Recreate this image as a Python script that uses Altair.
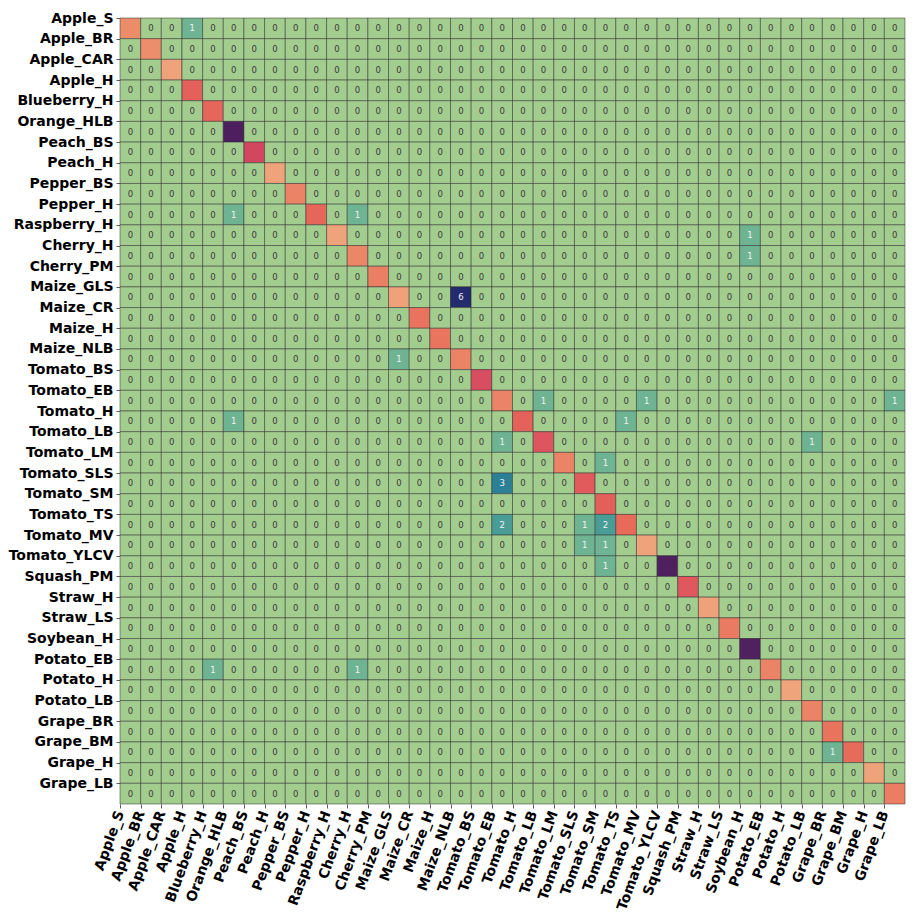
import altair as alt
import pandas as pd

labels = ["Apple_S", "Apple_BR", "Apple_CAR", "Apple_H", "Blueberry_H", "Orange_HLB",
          "Peach_BS", "Peach_H", "Pepper_BS", "Pepper_H", "Raspberry_H", "Cherry_H",
          "Cherry_PM", "Maize_GLS", "Maize_CR", "Maize_H", "Maize_NLB", "Tomato_BS",
          "Tomato_EB", "Tomato_H", "Tomato_LB", "Tomato_LM", "Tomato_SLS", "Tomato_SM",
          "Tomato_TS", "Tomato_MV", "Tomato_YLCV", "Squash_PM", "Straw_H", "Straw_LS",
          "Soybean_H", "Potato_EB", "Potato_H", "Potato_LB", "Grape_BR", "Grape_BM",
          "Grape_H", "Grape_LB"]

# correct predictions (diagonal), estimated from colour
diag = [126, 124, 55, 329, 300, 1101, 459, 72, 199, 296, 74, 171, 210, 103, 238, 232,
        197, 425, 200, 318, 382, 190, 354, 335, 281, 75, 1071, 367, 91, 222, 1018, 200,
        30, 200, 236, 277, 85, 215]

# off-diagonal non-zero cells
err_rows = [0, 9, 9, 10, 11, 13, 16, 18, 18, 18, 19, 19, 20, 20, 21, 22, 24, 24, 24, 25, 25, 26, 31, 31, 35]
err_cols = [3, 5, 11, 30, 30, 16, 13, 20, 25, 37, 5, 24, 18, 33, 23, 18, 18, 22, 23, 22, 23, 23, 4, 11, 34]
err_vals = [1, 1, 1, 1, 1, 6, 1, 1, 1, 1, 1, 1, 1, 1, 1, 3, 2, 1, 2, 1, 1, 1, 1, 1, 1]

color_stops = [0, 1, 2, 3, 6, 30, 105, 125, 200, 235, 290, 340, 390, 460, 1000, 1101]
color_range = ["#a3cc8f", "#6fb492", "#4a9c96", "#2b8095", "#242a6e", "#efa47b",
               "#efa27a", "#ec8d6a", "#eb8366", "#e9745e", "#e6685a", "#e35e5a",
               "#dc5460", "#d3465f", "#51215f", "#4e1f5e"]

n = len(labels)
errs = {(r, c): v for r, c, v in zip(err_rows, err_cols, err_vals)}
rows = []
for r in range(n):
    for c in range(n):
        v = diag[r] if r == c else errs.get((r, c), 0)
        rows.append({"r": r, "c": c, "r2": r + 1, "c2": c + 1,
                     "rm": r + 0.5, "cm": c + 0.5, "v": v,
                     "isdiag": r == c, "txt": "" if r == c else str(v)})
df = pd.DataFrame(rows)

lab_expr = "[" + ",".join("'" + s + "'" for s in labels) + "][datum.value]"
ticks = list(range(n))

xscale = alt.Scale(domain=[0, n], nice=False, zero=False)
yscale = alt.Scale(domain=[0, n], nice=False, zero=False, reverse=True)

common_axis = dict(values=ticks, labelExpr=lab_expr, title=None, domain=False, grid=False,
                   tickSize=4, tickColor="#333333", tickWidth=0.8,
                   labelFont="DejaVu Sans", labelFontWeight="bold", labelFontSize=14,
                   labelColor="#000000", labelPadding=3, labelOverlap=False,
                   labelBound=False, labelFlush=False, labelSeparation=0)

xaxis = alt.Axis(orient="bottom", labelAngle=290, labelAlign="right",
                 labelBaseline="middle", **common_axis)
yaxis = alt.Axis(orient="left", labelAlign="right", labelBaseline="middle", **common_axis)

base = alt.Chart(df)

cells = base.mark_rect(stroke="#2a2a2a", strokeWidth=0.7, strokeOpacity=0.7).encode(
    x=alt.X("c:Q", scale=xscale, axis=xaxis),
    x2="c2:Q",
    y=alt.Y("r:Q", scale=yscale, axis=yaxis),
    y2="r2:Q",
    color=alt.Color("v:Q", scale=alt.Scale(domain=color_stops, range=color_range),
                    legend=None),
)

text = base.transform_filter("!datum.isdiag").mark_text(
    font="DejaVu Sans", fontSize=8.5, baseline="middle", align="center"
).encode(
    x=alt.X("cm:Q", scale=xscale, axis=xaxis),
    y=alt.Y("rm:Q", scale=yscale, axis=yaxis),
    text="txt:N",
    color=alt.condition("datum.v > 0", alt.value("#f2f2f2"), alt.value("#3a3a3a")),
)

chart = alt.layer(cells, text).properties(
    width=785, height=786,
    padding={"left": 0, "top": 3, "right": 0, "bottom": 0},
    background="white",
).configure_view(stroke=None)

chart.save("out.html", embed_options={"renderer": "svg", "actions": False})
